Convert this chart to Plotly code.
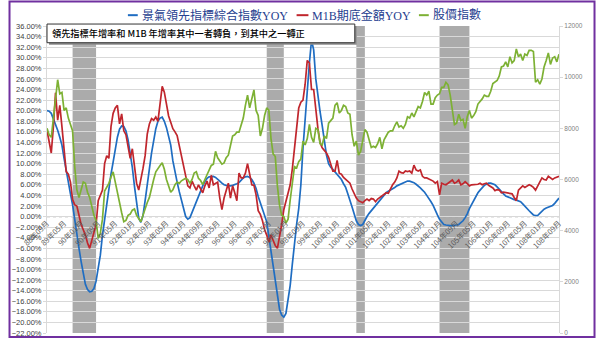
import plotly.graph_objects as go

# ---- monthly categories: 88年09月 .. 108年09月 ----
months = []
yr, mo = 88, 9
while (yr, mo) <= (108, 9):
    months.append(f"{yr}年{mo:02d}月")
    mo += 1
    if mo > 12:
        mo, yr = 1, yr + 1

tick_labels = months[::8]

# 景氣領先指標綜合指數 YoY (%)
leading_yoy = (
    [20.0, 19.9, 19.5, 18.5]                                                   # 88
    + [17.5, 16.3, 15.0, 13.5, 11.0, 8.5, 6.3, 4.3, 2.2, -0.8, -3.5, -6.0]     # 89
    + [-8.5, -11.0, -12.8, -13.8, -14.2, -14.1, -13.6, -12.2, -9.8, -7.3, -3.5, -0.5]  # 90
    + [2.0, 4.8, 8.0, 10.3, 12.8, 15.0, 16.5, 17.1, 17.0, 16.2, 14.5, 12.0]    # 91
    + [9.3, 5.7, 2.5, -0.3, -1.1, 0.2, 3.0, 6.5, 9.0, 12.0, 14.5, 16.6]        # 92
    + [18.0, 18.6, 18.8, 18.0, 16.8, 15.0, 13.5, 10.5, 8.2, 6.5, 4.7, 3.0]     # 93
    + [1.2, 0.0, -0.5, -0.2, 0.8, 1.8, 2.8, 3.9, 5.0, 5.8, 6.6, 7.2]           # 94
    + [7.5, 7.6, 7.6, 7.4, 7.1, 6.7, 6.3, 6.0, 5.9, 5.8, 5.8, 5.9]             # 95
    + [6.0, 6.2, 6.4, 6.8, 7.3, 7.5, 7.6, 7.4, 7.0, 6.3, 5.3, 3.8]             # 96
    + [2.6, 1.6, 0.4, -1.0, -3.8, -6.5, -9.5, -12.5, -15.5, -17.5, -18.6, -19.0]  # 97
    + [-18.3, -16.0, -13.0, -9.0, -5.0, -1.5, 1.5, 6.0, 13.0, 19.0, 24.0, 29.0]   # 98
    + [33.3, 31.5, 26.0, 22.5, 19.8, 17.2, 14.5, 11.6, 10.0, 9.3, 8.9, 8.4]    # 99
    + [8.0, 7.6, 7.0, 6.2, 5.5, 4.3, 3.2, 1.8, 0.5, -0.8, -1.5, -1.7]          # 100
    + [-1.5, -0.6, 0.0, 0.6, 1.1, 1.5, 2.0, 2.6, 3.1, 3.6, 4.1, 4.5]           # 101
    + [4.8, 5.0, 5.2, 5.5, 5.8, 6.0, 6.2, 6.4, 6.6, 6.7, 6.7, 6.6]             # 102
    + [6.4, 6.1, 5.8, 5.4, 5.0, 4.6, 4.0, 3.5, 2.8, 2.1, 1.1, 0.3]             # 103
    + [-0.5, -1.1, -1.5, -1.6, -1.7, -1.7, -1.7, -1.7, -1.6, -1.5, -1.2, -0.8]  # 104
    + [-0.2, 0.5, 1.5, 2.3, 3.1, 3.8, 4.5, 5.0, 5.5, 5.9, 6.1, 6.3]            # 105
    + [6.3, 6.2, 6.0, 5.6, 5.1, 4.7, 4.3, 3.9, 3.7, 3.5, 3.3, 3.2]             # 106
    + [3.1, 3.0, 2.8, 2.4, 1.9, 1.5, 1.1, 0.7, 0.3, 0.2, 0.2, 0.6]             # 107
    + [1.1, 1.4, 1.6, 1.8, 1.9, 2.1, 2.5, 3.0, 3.5]                            # 108
)

# M1B 期底金額 YoY (%)
m1b_yoy = (
    [16.3, 14.0, 12.0, 17.0]
    + [23.4, 18.2, 21.0, 17.0, 12.5, 8.5, 8.0, 6.5, 3.2, 2.2, 2.0, 0.4]
    + [-1.5, -2.5, -3.5, -5.0, -6.0, -4.5, -3.0, -1.5, 3.0, 4.0, 5.0, 10.0]
    + [11.5, 11.0, 17.0, 19.5, 20.5, 21.0, 17.5, 19.4, 16.2, 15.5, 13.5, 11.0]
    + [12.8, 9.1, 6.3, 5.0, 6.9, 9.1, 11.5, 15.6, 17.5, 18.5, 18.2, 18.8]
    + [18.0, 22.0, 24.6, 23.5, 21.0, 19.0, 17.8, 16.6, 16.0, 15.3, 13.4, 11.5]
    + [10.0, 8.2, 5.8, 5.4, 6.7, 5.8, 5.0, 6.0, 5.2, 4.5, 5.8, 6.7]
    + [5.4, 7.8, 6.0, 6.2, 6.5, 3.5, 1.3, 3.5, 4.9, 6.3, 3.5, 5.8]
    + [4.5, 3.0, 8.2, 7.3, 7.3, 8.2, 10.0, 7.8, 6.0, 5.9, 4.1, 1.1]
    + [0.4, -0.8, -2.5, -3.5, -4.8, -3.5, -4.5, -5.5, -6.0, -4.0, -1.5, 1.3]
    + [3.0, 4.5, 6.0, 9.0, 12.5, 17.2, 20.5, 21.6, 22.0, 25.0, 29.5, 29.0]
    + [24.0, 24.0, 20.0, 16.6, 14.0, 13.0, 12.5, 12.0, 11.2, 10.0, 8.6, 8.6]
    + [10.6, 8.2, 8.0, 7.4, 7.0, 6.6, 6.3, 5.2, 4.2, 3.5, 3.0, 2.8]
    + [2.6, 3.0, 3.3, 3.0, 3.4, 3.3, 2.8, 3.3, 3.6, 3.9, 4.2, 4.5]
    + [4.4, 5.3, 6.0, 6.5, 7.3, 8.6, 8.3, 8.2, 8.6, 8.5, 8.6, 8.2]
    + [9.7, 8.8, 8.6, 8.8, 7.6, 7.3, 7.3, 7.1, 6.9, 6.7, 6.3, 6.6]
    + [4.1, 6.3, 6.1, 6.0, 6.3, 6.6, 6.9, 6.3, 6.5, 6.9, 6.0, 6.2]
    + [6.6, 6.2, 5.8, 6.0, 6.0, 6.0, 6.1, 6.3, 6.0, 6.2, 6.3, 5.9]
    + [5.7, 5.4, 4.9, 5.1, 5.0, 4.5, 4.6, 4.5, 4.5, 4.4, 4.3, 3.6]
    + [3.0, 5.0, 5.5, 5.8, 5.5, 5.7, 6.0, 5.8, 5.5, 5.0, 5.8, 6.3]
    + [7.3, 7.0, 6.9, 7.6, 7.2, 7.0, 7.3, 7.4, 7.6]
)

# 股價指數 (right axis)
taiex = (
    [8000, 7750, 7650, 8450]
    + [9100, 9900, 9350, 9400, 8700, 8800, 8400, 8150, 7900, 6500, 5600, 5300]
    + [5600, 5900, 5850, 5500, 5300, 4950, 4600, 4400, 3700, 3900, 4450, 5550]
    + [5700, 5850, 6100, 6300, 5900, 5500, 5000, 4700, 4350, 4400, 4600, 4650]
    + [4800, 4850, 4600, 4450, 4350, 4600, 4900, 5100, 5300, 5700, 6000, 6300]
    + [6450, 6550, 6650, 6400, 6000, 5700, 5500, 5600, 5800, 5900, 5850, 5950]
    + [5990, 6050, 6000, 5850, 6000, 6250, 6300, 6050, 5960, 5800, 6000, 6200]
    + [6400, 6550, 6600, 7100, 6850, 6700, 6600, 6650, 6850, 6950, 7400, 7700]
    + [7750, 7850, 7850, 8100, 8400, 8900, 9300, 8800, 9200, 9500, 8700, 8500]
    + [7700, 8000, 8500, 8800, 8700, 7600, 7000, 6900, 5750, 5000, 4600, 4550]
    + [4300, 4450, 5200, 5900, 6500, 6450, 6700, 6800, 7500, 7350, 7600, 8150]
    + [7650, 7450, 8000, 7950, 7400, 7350, 7700, 7600, 8200, 8300, 8400, 8900]
    + [9000, 8600, 8700, 8900, 8850, 8600, 8550, 7750, 7300, 7500, 6950, 7100]
    + [7500, 7950, 7850, 7500, 7250, 7300, 7250, 7400, 7650, 7200, 7550, 7700]
    + [7850, 7900, 7900, 8100, 8250, 8050, 8100, 8000, 8150, 8450, 8400, 8600]
    + [8450, 8650, 8850, 8800, 9050, 9400, 9300, 9450, 8950, 8950, 9200, 9300]
    + [9350, 9600, 9600, 9800, 9700, 9300, 8650, 8150, 8200, 8550, 8300, 8350]
    + [8000, 8450, 8700, 8400, 8500, 8650, 8950, 9050, 9150, 9300, 9250, 9250]
    + [9450, 9750, 9800, 9870, 10050, 10400, 10430, 10600, 10400, 10800, 10560, 10650]
    + [11100, 10800, 10900, 10650, 10900, 10850, 11050, 11050, 11000, 9800, 9900, 9730]
    + [9930, 10400, 10650, 10950, 10500, 10750, 10800, 10600, 10900]
)

# shaded periods (start month, end month)
shaded_periods = [("89年09月", "90年08月"), ("97年04月", "97年12月"),
                  ("100年10月", "101年02月"), ("104年01月", "105年03月")]

series_names = ["景氣領先指標綜合指數YOY", "M1B期底金額YOY", "股價指數"]
note_text = "領先指標年增率和 M1B 年增率其中一者轉負，到其中之一轉正"

BLUE, RED, GREEN = "#1F6DC2", "#C0262D", "#7DB134"
NAVY = "#26408F"
W, H = 598, 350
ML, MR, MT, MB = 40, 39, 26, 12
PW, PH = W - ML - MR, H - MT - MB
Y_MIN, Y_MAX = -22, 36


def px(x):
    return (x - ML) / PW


def py(y):
    return (H - MB - y) / PH


fig = go.Figure()
fig.add_trace(go.Scatter(x=months, y=leading_yoy, mode="lines", name=series_names[0],
                         line=dict(color=BLUE, width=1.7)))
fig.add_trace(go.Scatter(x=months, y=m1b_yoy, mode="lines", name=series_names[1],
                         line=dict(color=RED, width=1.7)))
fig.add_trace(go.Scatter(x=months, y=taiex, mode="lines", name=series_names[2],
                         line=dict(color=GREEN, width=1.7), yaxis="y2"))

shapes = []
for start, end in shaded_periods:
    shapes.append(dict(type="rect", xref="x", yref="paper",
                       x0=months.index(start), x1=months.index(end), y0=0, y1=1,
                       fillcolor="#ABABAB", line=dict(width=0), layer="between"))
# dotted zero line
shapes.append(dict(type="line", xref="paper", yref="y", x0=0, x1=1, y0=0, y1=0,
                   line=dict(color="#A0A0A0", width=1.3, dash="dot"), layer="between"))
# note box with shadow
shapes.append(dict(type="rect", xref="paper", yref="paper",
                   x0=px(42), x1=px(354), y0=py(45), y1=py(26),
                   fillcolor="#8C8C8C", line=dict(width=0), layer="above"))
shapes.append(dict(type="rect", xref="paper", yref="paper",
                   x0=px(40), x1=px(352), y0=py(43), y1=py(24),
                   fillcolor="white", line=dict(color="#333333", width=1), layer="above"))
# legend samples
for (x0, x1), col in zip([(122, 132), (293, 305), (417, 427)], [BLUE, RED, GREEN]):
    shapes.append(dict(type="line", xref="paper", yref="paper",
                       x0=px(x0), x1=px(x1), y0=py(15), y1=py(15),
                       line=dict(color=col, width=2)))
# outer frame
shapes.append(dict(type="rect", xref="paper", yref="paper",
                   x0=px(2), x1=px(595), y0=py(342), y1=py(1),
                   line=dict(color="#7030A0", width=2), fillcolor="rgba(0,0,0,0)"))

legend_font = dict(family="Liberation Serif, Noto Sans CJK TC", size=12, color=NAVY)
annotations = []
for x0, name in zip([134, 307, 429], series_names):
    annotations.append(dict(text=name, xref="paper", yref="paper", x=px(x0), y=py(15),
                            xanchor="left", yanchor="middle", showarrow=False,
                            font=legend_font))
annotations.append(dict(text=note_text, xref="paper", yref="paper", x=px(43), y=py(33.5),
                        xanchor="left", yanchor="middle", showarrow=False,
                        font=dict(family="Noto Sans CJK TC", size=9.2, color="#000000",
                                  weight=500)))

fig.update_layout(
    width=W, height=H, margin=dict(l=ML, r=MR, t=MT, b=MB),
    paper_bgcolor="white", plot_bgcolor="white", showlegend=False,
    shapes=shapes, annotations=annotations,
    xaxis=dict(type="category", range=[0, len(months) - 1], tickmode="array",
               tickvals=tick_labels, ticktext=tick_labels, tickangle=-45,
               tickfont=dict(family="Noto Sans CJK TC", size=7.5, color="#595959"),
               anchor="free", position=(0 - Y_MIN) / (Y_MAX - Y_MIN),
               showgrid=False, showline=False, ticks="", zeroline=False),
    yaxis=dict(range=[Y_MIN, Y_MAX], dtick=2, tick0=0, tickformat=".2f", ticksuffix="%",
               gridcolor="#D9D9D9", gridwidth=1, zeroline=False,
               showline=True, linecolor="#D9D9D9", ticks="outside", ticklen=3,
               tickcolor="#D9D9D9",
               tickfont=dict(family="Liberation Sans", size=7.5, color="#404040")),
    yaxis2=dict(range=[0, 12000], dtick=2000, tickformat="d", overlaying="y", side="right",
                showgrid=False, zeroline=False, showline=True, linecolor="#D9D9D9",
                ticks="outside", ticklen=3, tickcolor="#D9D9D9",
                tickfont=dict(family="Liberation Sans", size=6.5, color="#7F7F7F")),
)

fig.write_html("out.html")
